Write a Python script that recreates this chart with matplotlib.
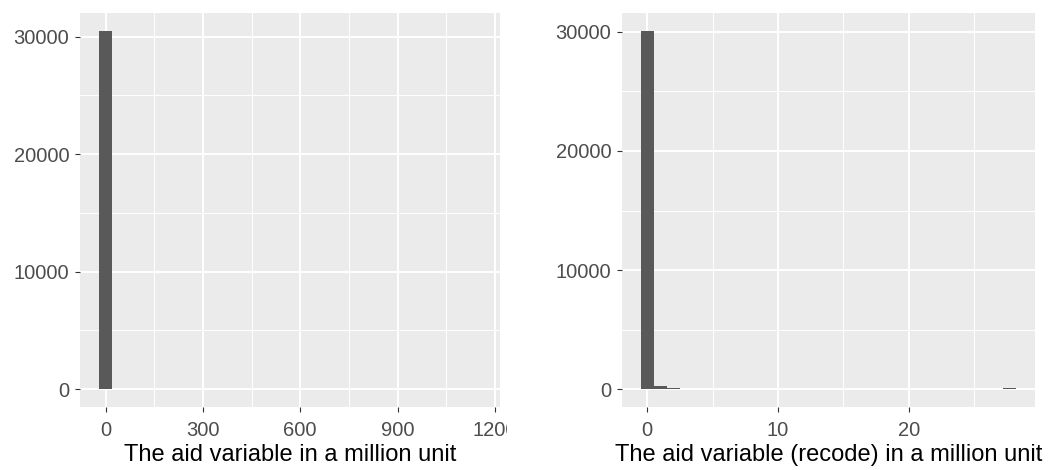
import numpy as np
import matplotlib
matplotlib.use("Agg")
import matplotlib.pyplot as plt
from matplotlib.transforms import Bbox, TransformedBbox

# histogram bins (centre, count)
aid_centers = [0.0, 40.6, 81.2, 1136.8]
aid_counts = [30490, 8, 3, 1]
aid_width = 40.6

recode_centers = [0.0, 0.99, 1.98, 27.72]
recode_counts = [30085, 280, 130, 130]
recode_width = 0.99

aid_ticks = [0, 300, 600, 900, 1200]
aid_minor = [150, 450, 750, 1050]
recode_ticks = [0, 10, 20]
recode_minor = [5, 15, 25]
y_ticks = [0, 10000, 20000, 30000]
y_minor = [5000, 15000, 25000]

plt.rcParams['font.family'] = ['Liberation Sans', 'DejaVu Sans']

fig = plt.figure(figsize=(10.51, 4.70), dpi=100)
ax1 = fig.add_axes([80 / 1051, 1 - 407 / 470, 420 / 1051, 394 / 470])
ax2 = fig.add_axes([622 / 1051, 1 - 407 / 470, 413 / 1051, 394 / 470])


def gg_hist(ax, centers, counts, width, xt, xm, xlabel):
    ax.set_facecolor('#EBEBEB')
    ax.bar(centers, counts, width=width, color='#595959', linewidth=0, zorder=3)
    lo = centers[0] - width / 2
    hi = centers[-1] + width / 2
    ax.set_xlim(lo - 0.05 * (hi - lo), hi + 0.05 * (hi - lo))
    top = max(counts)
    ax.set_ylim(-0.05 * top, 1.05 * top)
    ax.set_xticks(xt)
    ax.set_xticks(xm, minor=True)
    ax.set_yticks(y_ticks)
    ax.set_yticks(y_minor, minor=True)
    ax.grid(which='major', color='white', linewidth=1.4, zorder=0)
    ax.grid(which='minor', color='white', linewidth=0.7, zorder=0)
    ax.set_axisbelow(True)
    for s in ax.spines.values():
        s.set_visible(False)
    ax.tick_params(which='major', length=3.8, width=0.8, color='#333333',
                   labelcolor='#4D4D4D', labelsize=14.5, pad=4)
    ax.tick_params(axis='x', which='major', pad=6)
    ax.tick_params(which='minor', length=0)
    ax.set_xlabel(xlabel, fontsize=17, color='black', labelpad=3)


gg_hist(ax1, aid_centers, aid_counts, aid_width, aid_ticks, aid_minor,
        'The aid variable in a million unit')
gg_hist(ax2, recode_centers, recode_counts, recode_width, recode_ticks, recode_minor,
        'The aid variable (recode) in a million unit')

# the left panel's cell cuts off the "1200" label
clip = TransformedBbox(Bbox([[0, 0], [507 / 1051, 1]]), fig.transFigure)
for lab in ax1.get_xticklabels():
    lab.set_clip_on(True)
    lab.set_clip_box(clip)

fig.savefig('out.png', dpi=100)
